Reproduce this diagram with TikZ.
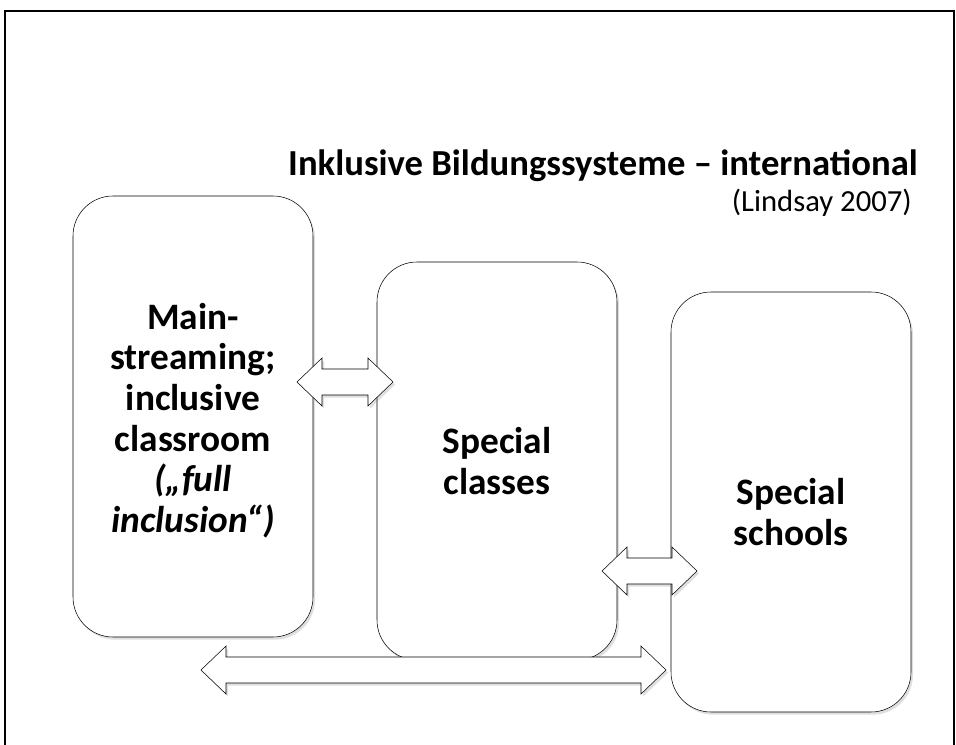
\documentclass[tikz,border=0pt]{standalone}
\usepackage{fontspec}
\setmainfont{Carlito}
\usetikzlibrary{calc,shadows}

\tikzset{
  box/.style={draw, fill=white, rounded corners=30pt, minimum width=180pt,
    drop shadow={shadow xshift=1.5pt, shadow yshift=-2pt, opacity=.25}},
  boxtext/.style={align=center, font=\fontsize{28}{30.5}\selectfont\bfseries},
  dblarrow/.style={draw, fill=white, line join=miter,
    drop shadow={shadow xshift=1.5pt, shadow yshift=-2pt, opacity=.25}}
}
% block arrow between two tips, sizes in px
\newcommand\wideArrow[2]{%
  \draw[dblarrow] (#1) -- ++(25,-24) -- ++(0,11) -- ($(#2)+(-25,-13)$)
    -- ($(#2)+(-25,-24)$) -- (#2) -- ++(-25,24) -- ++(0,-11)
    -- ($(#1)+(25,13)$) -- ($(#1)+(25,24)$) -- cycle;}

\begin{document}
\begin{tikzpicture}[x=0.75pt, y=-0.75pt]
    \useasboundingbox (0,0) rectangle (956,745);
    \draw[line width=1.2pt] (5,745) -- (5,11) -- (954,11) -- (954,745);
    % title
    \node[anchor=base east, inner sep=0pt, font=\fontsize{27.5}{30}\selectfont\bfseries] (title)
      at (918,176) {Inklusive Bildungssysteme – international};
    \node[anchor=base east, inner sep=0pt, font=\fontsize{23}{26}\selectfont] (source)
      at (912,212) {(Lindsay 2007)};
    % the three settings
    \node[box, minimum height=330.75pt] (main) at (193,416.5) {};
    \node[box, minimum height=298.5pt] (classes) at (497,461) {};
    \node[box, minimum height=315pt] (schools) at (791,502) {};
    \node[boxtext] (maintext) at ($(main.center)+(0,4)$)
      {Main-\\streaming;\\inclusive\\classroom\\\textit{(„full}\\\textit{inclusion“)}};
    \node[boxtext] (classestext) at (classes.center) {Special\\classes};
    \node[boxtext] (schoolstext) at ($(schools.center)+(0,10)$) {Special\\schools};
    % arrows
    \coordinate (a1l) at (297,382);
    \coordinate (a1r) at (393,382);
    \coordinate (a2l) at (602,571);
    \coordinate (a2r) at (697,571);
    \coordinate (a3l) at (201,670);
    \coordinate (a3r) at (666,670);
    \wideArrow{a1l}{a1r}
    \wideArrow{a2l}{a2r}
    \wideArrow{a3l}{a3r}
\end{tikzpicture}
\end{document}
